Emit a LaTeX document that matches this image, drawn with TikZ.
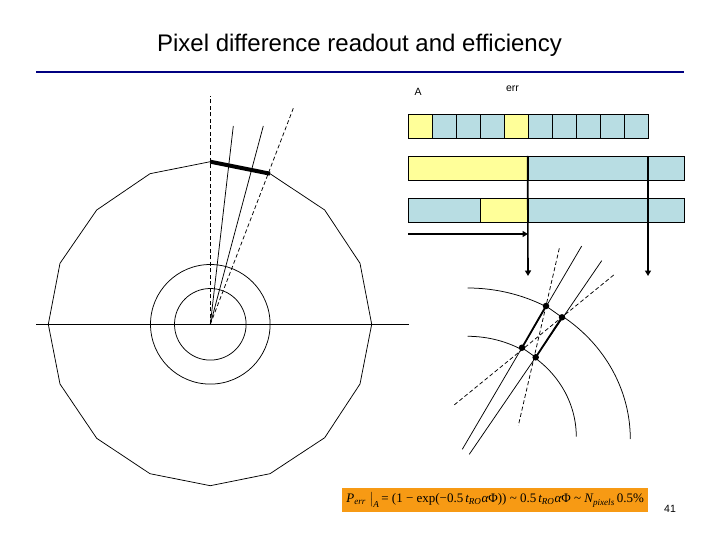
\documentclass[tikz,border=0pt]{standalone}
\usepackage{amsmath}
\usepackage{fontspec}
\setmainfont{Liberation Sans}
\newfontfamily\serifform{Liberation Serif}
\usetikzlibrary{arrows.meta}
\definecolor{cellblue}{HTML}{B8DDE3}
\definecolor{cellyellow}{HTML}{FFFF99}
\definecolor{rulenavy}{HTML}{000080}
\definecolor{formorange}{HTML}{F79A14}
\newcommand{\iv}[1]{\text{\itshape #1}}
\tikzset{
  thinline/.style={draw=black,line width=0.75pt},
  dashline/.style={draw=black,line width=0.75pt,dash pattern=on 4pt off 2.5pt},
  heavyline/.style={draw=black,line width=1.8pt},
  readout/.style={draw=black,line width=1.6pt,-{Triangle[length=5.5pt,width=6pt]}},
  bluecell/.style={draw=black,line width=0.75pt,fill=cellblue,inner sep=0pt,minimum height=24pt},
  yellowcell/.style={draw=black,line width=0.75pt,fill=cellyellow,inner sep=0pt,minimum height=24pt},
  dotmark/.style={circle,fill=black,inner sep=0pt,minimum size=6.5pt},
  smalltext/.style={font=\fontsize{10.5}{12}\selectfont,inner sep=0pt}
}
\begin{document}
\begin{tikzpicture}[x=1pt,y=-1pt]
\useasboundingbox (0,0) rectangle (720,540);
% title
\node[font=\fontsize{24}{28}\selectfont,inner sep=0pt] (title) at (359.5,45) {Pixel difference readout and efficiency};
\coordinate (ruleL) at (36,72);
\coordinate (ruleR) at (684,72);
\draw[rulenavy,line width=2.6pt] (ruleL) -- (ruleR);
% detector polygon
\draw[thinline] (210.3,161.7) -- (270,173.7) -- (324.7,210) -- (360,263.3) -- (371.7,324.3) -- (360,384) -- (324.7,437.7) -- (270,473.7) -- (210.3,485.7) -- (150,473.7) -- (96.7,438.3) -- (60,384) -- (48.3,324.3) -- (60,263.3) -- (96.7,210) -- (150,173.7) -- cycle;
\coordinate (ctr) at (210.3,324.3);
\coordinate (axisL) at (36,324.3);
\coordinate (axisR) at (409,324.3);
\draw[thinline] (axisL) -- (axisR);
\draw[thinline] (ctr) circle[radius=35.8pt];
\draw[thinline] (ctr) circle[radius=59.8pt];
\coordinate (rayA) at (210.3,96);
\coordinate (rayB) at (233.3,126);
\coordinate (rayC) at (263.3,126);
\coordinate (rayD) at (293.3,108.3);
\draw[dashline] (ctr) -- (rayA);
\draw[thinline] (ctr) -- (rayB);
\draw[thinline] (ctr) -- (rayC);
\draw[dashline] (ctr) -- (rayD);
\coordinate (segL) at (210.3,161.7);
\coordinate (segR) at (270,173.7);
\draw[black,line width=4pt] (segL) -- (segR);
% labels
\node[smalltext] (labA) at (418,92) {A};
\node[smalltext] (labErr) at (512.5,89) {err};
\node[smalltext] (labPage) at (670,509) {41};
% row 1
\foreach \n/\xc/\st in {0/420.3/yellowcell,1/444.3/bluecell,2/468.3/bluecell,3/492.3/bluecell,4/516.3/yellowcell,5/540.3/bluecell,6/564.3/bluecell,7/588.3/bluecell,8/612.3/bluecell,9/636.3/bluecell}
  \node[\st,minimum width=24pt] (cell\n) at (\xc,126.3) {};
% row 2
\node[yellowcell,minimum width=119.7pt] (twoY) at (468.15,168.3) {};
\node[bluecell,minimum width=156.3pt] (twoB) at (606.15,168.3) {};
% row 3
\node[bluecell,minimum width=72pt] (threeA) at (444.3,210.3) {};
\node[yellowcell,minimum width=47.7pt] (threeY) at (504.15,210.3) {};
\node[bluecell,minimum width=156.3pt] (threeB) at (606.15,210.3) {};
% arrows
\coordinate (arrow1end) at (528,276);
\coordinate (arrow2start) at (648,156.3);
\coordinate (arrow2end) at (648,276);
\coordinate (arrow3start) at (408,234);
\coordinate (arrow3end) at (528,234);
\draw[readout] (twoB.north west) -- (arrow1end);
\draw[readout] (arrow2start) -- (arrow2end);
\draw[readout] (arrow3start) -- (arrow3end);
% lower-right detail
\coordinate (d1) at (546,306);
\coordinate (d2) at (562,317.3);
\coordinate (d3) at (522,347.7);
\coordinate (d4) at (535.7,357.3);
\draw[thinline] plot[domain=90:61.5,samples=16,smooth] ({467.7+163*cos(\x)},{439-151*sin(\x)}) -- (d1) -- (d2) -- plot[domain=54:0,samples=24,smooth] ({467.7+162.6*cos(\x)},{439-151*sin(\x)});
\draw[thinline] plot[domain=90:60,samples=16,smooth] ({467.7+108.6*cos(\x)},{436.7-100.4*sin(\x)}) -- (d3) -- (d4) -- plot[domain=50:0,samples=24,smooth] ({467.7+108.6*cos(\x)},{436.7-100.4*sin(\x)});
\coordinate (s1a) at (581.7,246);
\coordinate (s1b) at (462.3,449.3);
\coordinate (s2a) at (601.7,260.7);
\coordinate (s2b) at (469.3,454.3);
\coordinate (q1a) at (559.3,248.3);
\coordinate (q1b) at (518.3,425.7);
\coordinate (q2a) at (613.7,275);
\coordinate (q2b) at (453.3,405.7);
\draw[thinline] (s1a) -- (s1b);
\draw[thinline] (s2a) -- (s2b);
\draw[dashline] (q1a) -- (q1b);
\draw[dashline] (q2a) -- (q2b);
\draw[heavyline] (d1) -- (d3);
\draw[heavyline] (d2) -- (d4);
\node[dotmark] (dm1) at (d1) {};
\node[dotmark] (dm2) at (d2) {};
\node[dotmark] (dm3) at (d3) {};
\node[dotmark] (dm4) at (d4) {};
% formula
\node[fill=formorange,minimum width=306.3pt,minimum height=23.7pt,inner sep=0pt,font=\serifform\fontsize{13}{15}\selectfont] (formula) at (495.15,500.15) {$\iv{P}_{\iv{err}}\;\big|_{\iv{A}}\,\text{= (1 − exp(−0.5}\,\iv{t}_{\iv{RO}}\iv{α}\text{Φ)) \textasciitilde\ 0.5}\,\iv{t}_{\iv{RO}}\iv{α}\text{Φ \textasciitilde\ }\iv{N}_{\iv{pixels}}\,\text{0.5\%}$};
\end{tikzpicture}
\end{document}
